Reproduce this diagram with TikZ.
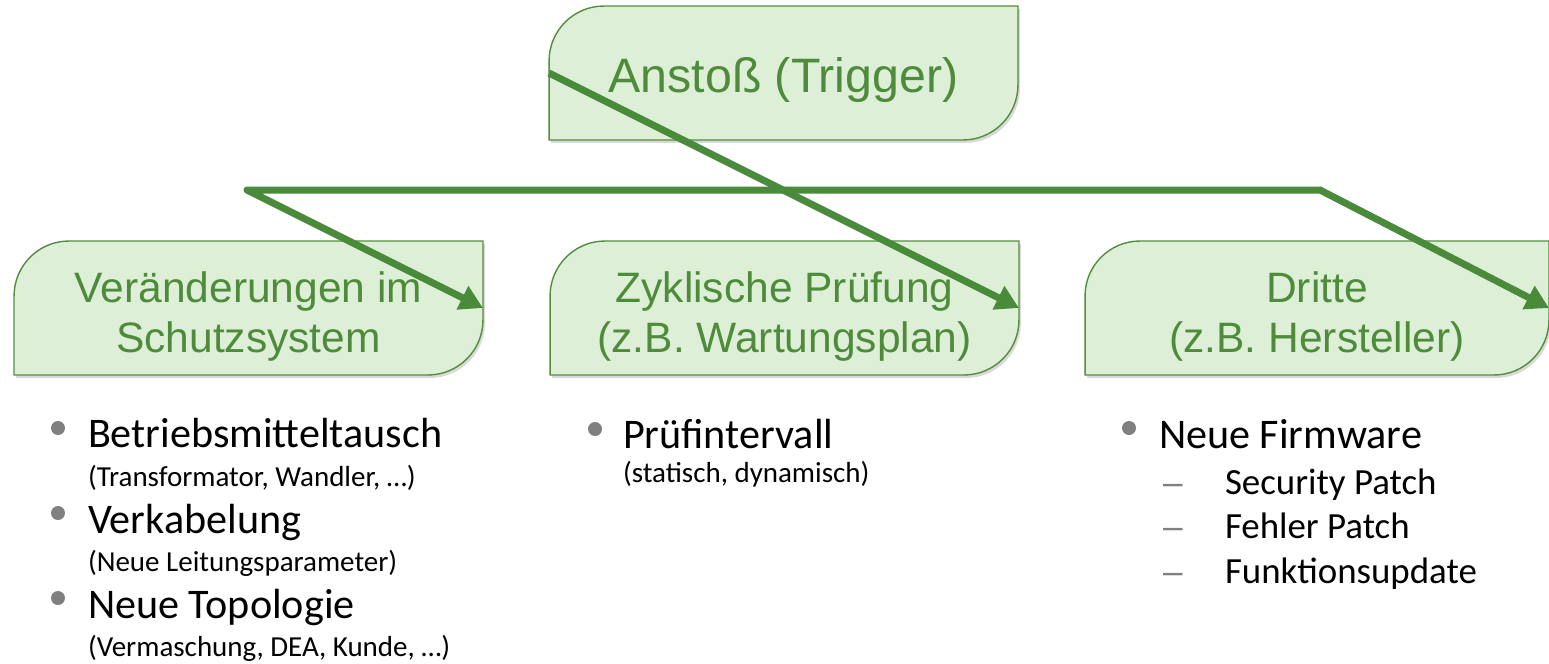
\documentclass[tikz,border=0pt]{standalone}
\usepackage{fontspec}
\setmainfont{Liberation Sans}
\newfontfamily\listfont{Carlito}
\usetikzlibrary{arrows.meta,backgrounds}

\definecolor{boxfill}{RGB}{222,239,216}
\definecolor{boxline}{RGB}{84,141,62}
\definecolor{boxtext}{RGB}{78,139,58}
\definecolor{linkgreen}{RGB}{74,138,59}
\definecolor{dotgray}{RGB}{128,128,128}

% box with two round corners (top left, bottom right)
\newcommand\leafshape[2]{%
  \path[#2] ([yshift=-1.1cm]#1.north west) -- (#1.south west)
    -- ([xshift=-1.1cm]#1.south east) arc[start angle=-90,end angle=0,radius=1.1cm]
    -- (#1.north east) -- ([xshift=1.1cm]#1.north west)
    arc[start angle=90,end angle=180,radius=1.1cm] -- cycle;}
% two lines, set a little below the middle
\newcommand\twolines[2]{\rule{0pt}{28.6pt}#1\\#2\rule[-6pt]{0pt}{6pt}}

\begin{document}
\begin{tikzpicture}[x=0.02cm,y=-0.02cm]
\tikzstyle{every node}=[inner sep=0pt, outer sep=0pt]
\tikzstyle{box}=[minimum width=9.38cm, minimum height=2.68cm, align=center, text=boxtext, font=\fontsize{24.2}{28.4}\selectfont]
\tikzstyle{item}=[anchor=base west, font=\listfont\fontsize{24}{28}\selectfont]
\tikzstyle{subitem}=[anchor=base west, font=\listfont\fontsize{21}{25}\selectfont]
\tikzstyle{note}=[anchor=base west, font=\listfont\fontsize{16.5}{19}\selectfont]
\tikzstyle{dashmark}=[anchor=base west, text=dotgray, font=\fontsize{20}{24}\selectfont]
\tikzstyle{link}=[draw=linkgreen, line width=0.14cm, line join=round]
\tikzstyle{tip}=[-{Triangle[length=0.46cm,width=0.5cm]}]
\useasboundingbox (0,0) rectangle (1549,663);

% boxes
\draw (783.5,73) node (anstoss) [box,text height=25pt,text depth=2.3pt,font=\fontsize{27.5}{32}\selectfont] {Anstoß (Trigger)};
\draw (248.5,308) node (aenderung) [box] {\twolines{Veränderungen im}{Schutzsystem}};
\draw (784.5,308) node (zyklus) [box] {\twolines{Zyklische Prüfung}{(z.B. Wartungsplan)}};
\draw (1317,308) node (dritte) [box,minimum width=9.28cm] {\twolines{Dritte}{(z.B. Hersteller)}};

\begin{scope}[on background layer, x=1cm, y=1cm]
\foreach \n in {anstoss,aenderung,zyklus,dritte}{
  \leafshape{\n}{fill=black, opacity=.15, transform canvas={shift={(0.04cm,-0.06cm)}}}
  \leafshape{\n}{fill=boxfill, draw=boxline, line width=0.8pt}
}
\end{scope}

% connectors
\coordinate (knick1) at (247,190);
\coordinate (knick2) at (1320,190);
\draw[link,tip] (anstoss.west) -- (zyklus.east);
\draw[link,line cap=round,{Triangle[length=0.46cm,width=0.5cm]}-{Triangle[length=0.46cm,width=0.5cm]}] (aenderung.east) -- (knick1) -- (knick2) -- (dritte.east);

% lists
\fill[dotgray] (58,428) circle[radius=0.14cm];
\fill[dotgray] (58,513) circle[radius=0.14cm];
\fill[dotgray] (58,598) circle[radius=0.14cm];
\draw (88,447) node (b1) [item] {Betriebsmitteltausch};
\draw (88,486) node (b1n) [note] {(Transformator, Wandler, …)};
\draw (88,533) node (b2) [item] {Verkabelung};
\draw (88,571) node (b2n) [note] {(Neue Leitungsparameter)};
\draw (88,618) node (b3) [item] {Neue Topologie};
\draw (88,656) node (b3n) [note] {(Vermaschung, DEA, Kunde, …)};

\fill[dotgray] (595,429) circle[radius=0.14cm];
\draw (623,448) node (p1) [item] {Prüfintervall};
\draw (623,482) node (p1n) [note] {(statisch, dynamisch)};

\fill[dotgray] (1129,428) circle[radius=0.14cm];
\draw (1159,448) node (f1) [item] {Neue Firmware};
\foreach \y/\t [count=\i] in {494/Security Patch,538/Fehler Patch,583/Funktionsupdate}{
  \draw (1163,\y) node (d\i) [dashmark] {–};
  \draw (1225,\y) node (f1s\i) [subitem] {\t};
}
\end{tikzpicture}
\end{document}
